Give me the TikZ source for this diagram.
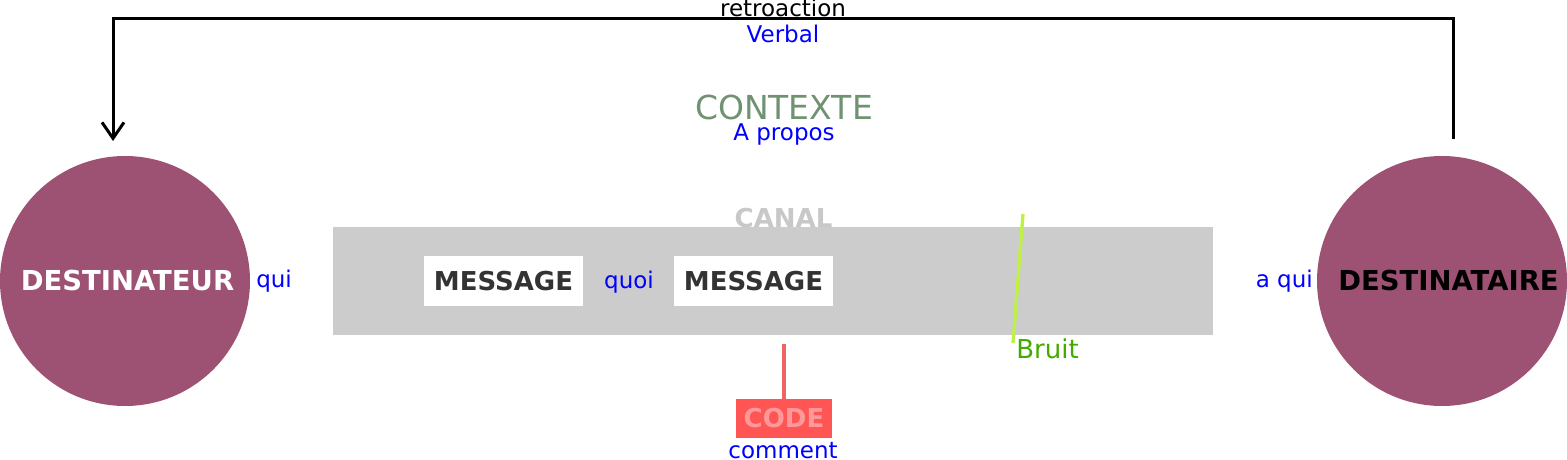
\documentclass[tikz,border=0pt]{standalone}
\usepackage{fontspec}
\setmainfont{DejaVu Sans}
\usetikzlibrary{arrows.meta}
\definecolor{circ}{RGB}{158,82,115}
\definecolor{canalgray}{RGB}{204,204,204}
\definecolor{canaltxt}{RGB}{200,200,200}
\definecolor{ctxgreen}{RGB}{111,146,113}
\definecolor{bruitgreen}{RGB}{68,170,0}
\definecolor{noiseline}{RGB}{190,240,70}
\definecolor{codeline}{RGB}{240,100,100}
\definecolor{codefill}{RGB}{255,85,85}
\definecolor{codetxt}{RGB}{255,153,153}
\definecolor{msgtxt}{RGB}{51,51,51}
\definecolor{pureblue}{RGB}{0,0,255}
\tikzset{
  reg/.style={inner sep=0pt, font=\fontsize{17.25pt}{20pt}\selectfont},
  bluetxt/.style={reg, text=pureblue},
  boldtxt/.style={inner sep=0pt, font=\fontsize{19.5pt}{22pt}\selectfont\bfseries},
  bigbold/.style={inner sep=0pt, font=\fontsize{20.6pt}{24pt}\selectfont\bfseries},
  person/.style={circle, fill=circ, minimum size=187.5pt, inner sep=0pt},
  msgbox/.style={rectangle, fill=white, minimum width=119.25pt, minimum height=37.5pt, inner sep=0pt, boldtxt, text=msgtxt},
  fbline/.style={line width=2.25pt, -{Straight Barb[length=12pt,width=16.5pt,line width=2.25pt]}},
}
\begin{document}
\begin{tikzpicture}[x=0.75pt,y=-0.75pt]
\useasboundingbox (0,0) rectangle (1567,460);
% people
\node[person] (src) at (125,281) {};
\node[person] (dst) at (1442,281) {};
\node[bigbold, text=white, anchor=base] (srctxt) at (127.5,290.5) {DESTINATEUR};
\node[bigbold, text=black, anchor=base] (dsttxt) at (1448.5,290.5) {DESTINATAIRE};
\node[bluetxt, anchor=base west] (qui) at (256,287) {qui};
\node[bluetxt, anchor=base east] (aqui) at (1313,287) {a qui};
% canal
\node[rectangle, fill=canalgray, minimum width=660pt, minimum height=81pt, inner sep=0pt] (canal) at (773,281) {};
\node[boldtxt, text=canaltxt, anchor=base] (canaltitle) at (783.5,227) {CANAL};
\node[msgbox] (msg1) at (503.5,281) {MESSAGE};
\node[msgbox] (msg2) at (753.5,281) {MESSAGE};
\node[bluetxt, anchor=base] (quoi) at (629,288) {quoi};
% context
\node[inner sep=0pt, font=\fontsize{24.75pt}{28pt}\selectfont, text=ctxgreen, anchor=base] (ctx) at (784,119) {CONTEXTE};
\node[bluetxt, anchor=base] (apropos) at (784,140) {A propos};
% feedback
\node[reg, text=black, anchor=base] (retro) at (783,17) {retroaction};
\node[bluetxt, anchor=base] (verbal) at (783,43) {Verbal};
\coordinate (fbA) at (1453,139);
\coordinate (fbTop) at (783,19);
\coordinate (fbB) at (113,141);
\draw[fbline] (fbA) |- (fbTop) -| (fbB);
% code
\node[rectangle, fill=codefill, minimum width=72pt, minimum height=29.25pt, inner sep=0pt, boldtxt, text=codetxt] (code) at (784,418.5) {CODE};
\coordinate (codeTop) at (784,344);
\draw[codeline, line width=3pt] (codeTop) -- (code.north);
\node[bluetxt, anchor=base] (comment) at (783,458) {comment};
% noise
\coordinate (noiseA) at (1023,214);
\coordinate (noiseB) at (1013,343);
\draw[noiseline, line width=2.5pt] (noiseA) -- (noiseB);
\node[inner sep=0pt, font=\fontsize{19.5pt}{22pt}\selectfont, text=bruitgreen, anchor=base west] (bruit) at (1016,358) {Bruit};
\end{tikzpicture}
\end{document}
